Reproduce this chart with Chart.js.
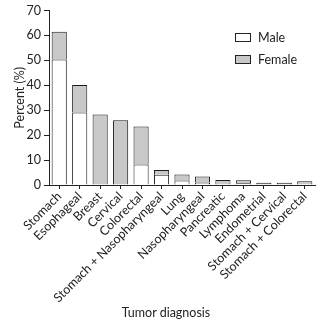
<!DOCTYPE html>
<html>
<head>
<meta charset="utf-8">
<script src="https://cdn.jsdelivr.net/npm/chart.js@4.4.1/dist/chart.umd.min.js"></script>
<style>
  html, body { margin: 0; padding: 0; background: #fff; }
  #wrap { position: relative; width: 335px; height: 329px; }
  #legend { position: absolute; left: 235px; top: 26px; font: 12.5px Lato, sans-serif; color: #222; }
  .item { height: 22px; display: flex; align-items: center; }
  .box { width: 14px; height: 7px; border: 1px solid #222; margin-right: 7px; }
  #xtitle { position: absolute; left: 106px; width: 120px; top: 305px; text-align: center; font: 12.5px Lato, sans-serif; color: #222; }
</style>
</head>
<body>
<div id="wrap">
  <canvas id="chart" width="335" height="329"></canvas>
  <div id="legend">
    <div class="item"><span class="box" style="background:#fff"></span>Male</div>
    <div class="item"><span class="box" style="background:#c8c8c8"></span>Female</div>
  </div>
  <div id="xtitle">Tumor diagnosis</div>
</div>
<script>
const categories = ['Stomach', 'Esophageal', 'Breast', 'Cervical', 'Colorectal',
  'Stomach + Nasopharyngeal', 'Lung', 'Nasopharyngeal', 'Pancreatic', 'Lymphoma',
  'Endometrial', 'Stomach + Cervical', 'Stomach + Colorectal'];
const maleValues = [50.3, 29.1, null, null, 8.2, 4.1, 1.8, 1.0, null, 0.7, null, null, null];
const femaleValues = [11.2, 11.0, 28.3, 26.0, 15.3, 1.9, 2.4, 2.4, 2.0, 1.2, 0.9, 0.9, 1.5];
const yTicks = [0, 10, 20, 30, 40, 50, 60, 70];

const font = { family: 'Lato, sans-serif', size: 12.5 };

new Chart(document.getElementById('chart'), {
  type: 'bar',
  data: {
    labels: categories,
    datasets: [
      { label: 'Male', data: maleValues, backgroundColor: '#ffffff', borderColor: '#1a1a1a', borderWidth: 1 },
      { label: 'Female', data: femaleValues, backgroundColor: '#c8c8c8', borderColor: '#1a1a1a', borderWidth: 1 }
    ]
  },
  options: {
    responsive: false,
    animation: false,
    layout: { padding: { top: 8, right: 20, bottom: 0, left: 0 } },
    datasets: { bar: { categoryPercentage: 1, barPercentage: 0.74 } },
    plugins: { legend: { display: false }, tooltip: { enabled: false } },
    scales: {
      x: {
        stacked: true,
        border: { color: '#222', width: 1 },
        grid: { offset: false, drawOnChartArea: false, tickLength: 4, color: '#222' },
        ticks: { autoSkip: false, minRotation: 45, maxRotation: 45, color: '#222', font: font, padding: 0 },
        afterFit: s => { s.height = 144; }
      },
      y: {
        stacked: true,
        min: 0, max: 70,
        border: { color: '#222', width: 1 },
        grid: { drawOnChartArea: false, tickLength: 5, color: '#222' },
        afterBuildTicks: s => { s.ticks = yTicks.map(v => ({ value: v })); },
        ticks: { color: '#222', font: font, padding: 3 },
        title: { display: true, text: 'Percent (%)', color: '#222', font: font, padding: { top: 12, bottom: 0 } },
        afterFit: s => { s.width = 49; }
      }
    }
  }
});
</script>
</body>
</html>
